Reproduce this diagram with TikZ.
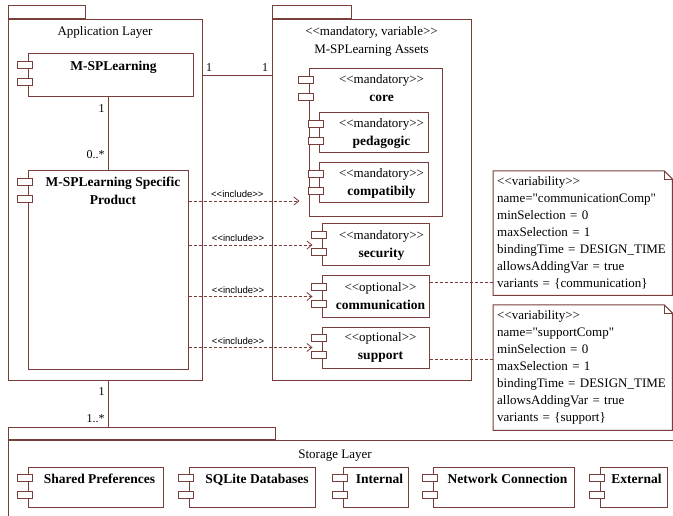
\documentclass[tikz,border=0pt]{standalone}
\usepackage{fontspec}
\setmainfont{Liberation Serif}[Ligatures=TeXOff]
\newfontfamily\inclfont{Liberation Sans}[Ligatures=TeXOff]
\usepackage{xcolor}
\usepackage{tikz}
\definecolor{umlbrown}{RGB}{120,62,58}
\usetikzlibrary{arrows.meta}

\tikzset{
	pkg/.style={draw=umlbrown, line width=1pt, rectangle, inner sep=0pt},
	pkglbl/.style={align=center, inner sep=0pt, font=\fontsize{13}{18}\selectfont},
	comp/.style={draw=umlbrown, line width=1pt, rectangle, inner sep=0pt, fill=white},
	ctext/.style={align=center, inner sep=0pt, font=\fontsize{13}{18}\selectfont},
	incl/.style={umlbrown, line width=0.8pt, dash pattern=on 3pt off 2pt, -{Straight Barb[length=5pt,width=8pt]}},
	incllbl/.style={above, yshift=2pt, inner sep=1pt, text=black, font=\inclfont\fontsize{9.5}{11}\selectfont},
	notelink/.style={umlbrown, line width=0.8pt, dash pattern=on 3pt off 2pt},
	note/.style={align=left, text width=171pt, inner xsep=4pt, inner ysep=3pt, font=\fontsize{13}{17}\selectfont},
	assoc/.style={umlbrown, line width=1pt},
	mult/.style={inner sep=3pt, text=black, font=\fontsize{12}{14}\selectfont}
}

\newcommand{\cname}[1]{{\fontsize{13.5}{18}\selectfont\bfseries #1}}
\newcommand{\compicons}[1]{%
	\draw[umlbrown, line width=1pt, fill=white] ([xshift=-10pt,yshift=-8pt]#1.north west) rectangle ++(15pt,-7pt);
	\draw[umlbrown, line width=1pt, fill=white] ([xshift=-10pt,yshift=-25pt]#1.north west) rectangle ++(15pt,-7pt);}
\newcommand{\noteoutline}[1]{%
	\draw[umlbrown, line width=1pt] (#1.north west) -- ([xshift=-8pt]#1.north east) -- ([yshift=-8pt]#1.north east) -- (#1.south east) -- (#1.south west) -- cycle;
	\draw[umlbrown, line width=0.8pt] ([xshift=-8pt]#1.north east) |- ([yshift=-8pt]#1.north east);}

\begin{document}
\begin{tikzpicture}[x=1pt,y=-1pt]
	\useasboundingbox (0,0) rectangle (673,516);
	\clip (0,0) rectangle (673,516);
	
	% packages
	\node[pkg, minimum width=194pt, minimum height=360pt] (app) at (105,200) {};
	\node[pkg, minimum width=77pt, minimum height=13pt, anchor=south west] (appTab) at (app.north west) {};
	\node[pkglbl] (appLbl) at ([yshift=-13pt]app.north) {Application Layer};
	
	\node[pkg, minimum width=199pt, minimum height=360pt] (assets) at (371.5,200) {};
	\node[pkg, minimum width=79pt, minimum height=13pt, anchor=south west] (assetsTab) at (assets.north west) {};
	\node[pkglbl] (assetsLbl) at ([yshift=-22pt]assets.north) {<<mandatory, variable>>\\M-SPLearning Assets};
	
	\node[pkg, minimum width=692pt, minimum height=100pt] (stor) at (354,490) {};
	\node[pkg, minimum width=267pt, minimum height=12pt, anchor=south west] (storTab) at (stor.north west) {};
	\node[pkglbl] (storLbl) at (335,456) {Storage Layer};
	
	% application layer
	\node[comp, minimum width=165pt, minimum height=43pt, label={[ctext, anchor=north, xshift=3pt, yshift=-7pt]north:\cname{M-SPLearning}}] (msp) at (110.5,75.5) {};
	\compicons{msp}
	\node[comp, minimum width=160pt, minimum height=198pt, label={[ctext, anchor=north, xshift=5pt, yshift=-6pt]north:{\cname{M-SPLearning Specific}\\\cname{Product}}}] (spec) at (108,270) {};
	\compicons{spec}
	
	% assets
	\node[comp, minimum width=133pt, minimum height=148pt, label={[ctext, anchor=north, xshift=6pt, yshift=-6pt]north:{<<mandatory>>\\\cname{core}}}] (core) at (375.5,143) {};
	\compicons{core}
	\node[comp, minimum width=109pt, minimum height=40pt, label={[ctext, xshift=8pt]center:{<<mandatory>>\\\cname{pedagogic}}}] (ped) at (373.5,133) {};
	\compicons{ped}
	\node[comp, minimum width=109pt, minimum height=40pt, label={[ctext, xshift=8pt]center:{<<mandatory>>\\\cname{compatibily}}}] (compat) at (373.5,183) {};
	\compicons{compat}
	\node[comp, minimum width=107pt, minimum height=42pt, label={[ctext, xshift=6pt]center:{<<mandatory>>\\\cname{security}}}] (sec) at (375.5,245) {};
	\compicons{sec}
	\node[comp, minimum width=107pt, minimum height=41pt, label={[ctext, xshift=5pt]center:{<<optional>>\\\cname{communication}}}] (comm) at (375.5,296.5) {};
	\compicons{comm}
	\node[comp, minimum width=107pt, minimum height=41pt, label={[ctext, xshift=5pt]center:{<<optional>>\\\cname{support}}}] (sup) at (375.5,347.5) {};
	\compicons{sup}
	
	% storage layer
	\node[comp, minimum width=135pt, minimum height=40pt, label={[ctext, anchor=north, xshift=4pt, yshift=-7pt]north:\cname{Shared Preferences}}] (shared) at (95.5,487) {};
	\compicons{shared}
	\node[comp, minimum width=126pt, minimum height=40pt, label={[ctext, anchor=north, xshift=5pt, yshift=-7pt]north:\cname{SQLite Databases}}] (sqlite) at (252,487) {};
	\compicons{sqlite}
	\node[comp, minimum width=65pt, minimum height=40pt, label={[ctext, anchor=north, xshift=4pt, yshift=-7pt]north:\cname{Internal}}] (internal) at (375.5,487) {};
	\compicons{internal}
	\node[comp, minimum width=141pt, minimum height=40pt, label={[ctext, anchor=north, xshift=4pt, yshift=-7pt]north:\cname{Network Connection}}] (network) at (503.5,487) {};
	\compicons{network}
	\node[comp, minimum width=67pt, minimum height=40pt, label={[ctext, anchor=north, xshift=3pt, yshift=-7pt]north:\cname{External}}] (external) at (633.5,487) {};
	\compicons{external}
	
	% variability notes
	\node[note, minimum height=124pt, anchor=north west] (note1) at (493,171) {<<variability>>\\name="communicationComp"\\minSelection = 0\\maxSelection = 1\\bindingTime = DESIGN\_TIME\\allowsAddingVar = true\\variants = \{communication\}};
	\noteoutline{note1}
	\node[note, minimum height=125pt, anchor=north west] (note2) at (493,305) {<<variability>>\\name="supportComp"\\minSelection = 0\\maxSelection = 1\\bindingTime = DESIGN\_TIME\\allowsAddingVar = true\\variants = \{support\}};
	\noteoutline{note2}
	
	% associations
	\draw[assoc] (msp.south -| spec.north) -- node[mult, pos=0.15, anchor=east]{1} node[mult, pos=0.78, anchor=east]{0..*} (spec.north);
	\draw[assoc] (app.east |- msp) -- node[mult, pos=0, above right]{1} node[mult, pos=1, above left]{1} (assets.west |- msp);
	\draw[assoc] (app.south -| spec) -- node[mult, pos=0.23, anchor=east]{1} node[mult, pos=0.83, anchor=east]{1..*} (storTab.north -| spec);
	
	% includes
	\coordinate (coreIn) at ([xshift=-9pt,yshift=-58pt]core.west);
	\draw[incl] (spec.east |- coreIn) -- node[incllbl, pos=0.44]{<<include>>} (coreIn);
	\draw[incl] (spec.east |- sec.west) -- node[incllbl, pos=0.4]{<<include>>} ([xshift=-9pt]sec.west);
	\draw[incl] (spec.east |- comm.west) -- node[incllbl, pos=0.4]{<<include>>} ([xshift=-9pt]comm.west);
	\draw[incl] (spec.east |- sup.west) -- node[incllbl, pos=0.4]{<<include>>} ([xshift=-9pt]sup.west);
	
	\coordinate (commOut) at ([yshift=14.5pt]comm.east);
	\draw[notelink] (commOut) -- (commOut -| note1.west);
	\coordinate (supOut) at ([yshift=-11.5pt]sup.east);
	\draw[notelink] (supOut) -- (supOut -| note2.west);
	
\end{tikzpicture}
\end{document}
